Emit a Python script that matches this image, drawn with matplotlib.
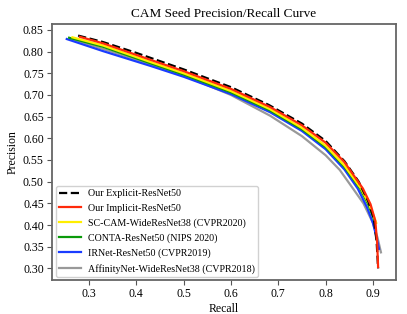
import matplotlib
matplotlib.use("Agg")
from matplotlib import pyplot as plt

plt.rcParams['font.family'] = ['Liberation Serif', 'DejaVu Serif']

# recall / precision
explicit_r = [0.277, 0.33, 0.40, 0.50, 0.60, 0.68, 0.75, 0.80, 0.84, 0.87, 0.89, 0.902, 0.908, 0.911]
explicit_p = [0.837, 0.822, 0.797, 0.759, 0.718, 0.677, 0.634, 0.594, 0.547, 0.500, 0.455, 0.415, 0.36, 0.300]

implicit_r = [0.281, 0.33, 0.43, 0.50, 0.60, 0.683, 0.75, 0.80, 0.84, 0.879, 0.895, 0.905, 0.909, 0.911]
implicit_p = [0.834, 0.819, 0.781, 0.755, 0.714, 0.672, 0.630, 0.590, 0.545, 0.484, 0.448, 0.41, 0.36, 0.303]

sccam_r = [0.265, 0.33, 0.43, 0.50, 0.60, 0.683, 0.75, 0.80, 0.84, 0.875, 0.892, 0.902, 0.907]
sccam_p = [0.833, 0.814, 0.776, 0.750, 0.709, 0.667, 0.624, 0.583, 0.537, 0.484, 0.448, 0.42, 0.405]

conta_r = [0.258, 0.33, 0.43, 0.50, 0.60, 0.683, 0.75, 0.80, 0.84, 0.873, 0.890, 0.900, 0.905]
conta_p = [0.832, 0.811, 0.773, 0.747, 0.706, 0.664, 0.621, 0.580, 0.534, 0.484, 0.448, 0.42, 0.405]

irnet_r = [0.253, 0.33, 0.43, 0.50, 0.60, 0.683, 0.75, 0.80, 0.84, 0.868, 0.888, 0.900, 0.907, 0.913]
irnet_p = [0.829, 0.801, 0.767, 0.742, 0.702, 0.660, 0.617, 0.575, 0.528, 0.484, 0.440, 0.405, 0.375, 0.345]

affinity_r = [0.262, 0.33, 0.43, 0.50, 0.60, 0.683, 0.75, 0.80, 0.83, 0.858, 0.88, 0.90, 0.91, 0.917]
affinity_p = [0.830, 0.806, 0.771, 0.745, 0.700, 0.652, 0.605, 0.561, 0.527, 0.484, 0.450, 0.405, 0.37, 0.337]

plt.figure(figsize=(4.07, 3.14), dpi=100)
ax = plt.gca()
plt.subplots_adjust(left=0.128, right=0.972, top=0.924, bottom=0.108)

plt.plot(affinity_r, affinity_p, color="#999999", lw=1.6, label="AffinityNet-WideResNet38 (CVPR2018)")
plt.plot(irnet_r, irnet_p, color="#1a3cff", lw=1.6, label="IRNet-ResNet50 (CVPR2019)")
plt.plot(conta_r, conta_p, color="#0a9a0a", lw=1.6, label="CONTA-ResNet50 (NIPS 2020)")
plt.plot(sccam_r, sccam_p, color="#ffee00", lw=1.6, label="SC-CAM-WideResNet38 (CVPR2020)")
plt.plot(explicit_r, explicit_p, color="black", lw=1.6, linestyle="--", label="Our Explicit-ResNet50")
plt.plot(implicit_r, implicit_p, color="#ff2a0a", lw=1.6, label="Our Implicit-ResNet50")

plt.xlim(0.222, 0.948)
plt.ylim(0.273, 0.864)
plt.xticks([0.3, 0.4, 0.5, 0.6, 0.7, 0.8, 0.9], ["0.3", "0.4", "0.5", "0.6", "0.7", "0.8", "0.9"], fontsize=8.5)
plt.yticks([0.30, 0.35, 0.40, 0.45, 0.50, 0.55, 0.60, 0.65, 0.70, 0.75, 0.80, 0.85], fontsize=8.5)
ax.yaxis.set_major_formatter(matplotlib.ticker.FormatStrFormatter("%.2f"))
ax.tick_params(color="#555555", length=3.5, width=0.8, pad=2.5)
for s in ax.spines.values():
    s.set_color("#666666")
    s.set_linewidth(1.3)

plt.xlabel("Recall", fontsize=8.5, labelpad=1.5)
plt.ylabel("Precision", fontsize=8.5, labelpad=3)
plt.title("CAM Seed Precision/Recall Curve", fontsize=9.5, pad=5)

h, l = ax.get_legend_handles_labels()
order = [4, 5, 3, 2, 1, 0]
plt.legend([h[i] for i in order], [l[i] for i in order], loc="lower left", fontsize=7.2,
           handlelength=2.2, handletextpad=0.7, borderpad=0.3, labelspacing=0.55,
           borderaxespad=0.35, framealpha=0.9)

plt.savefig("out.png", dpi=100)
